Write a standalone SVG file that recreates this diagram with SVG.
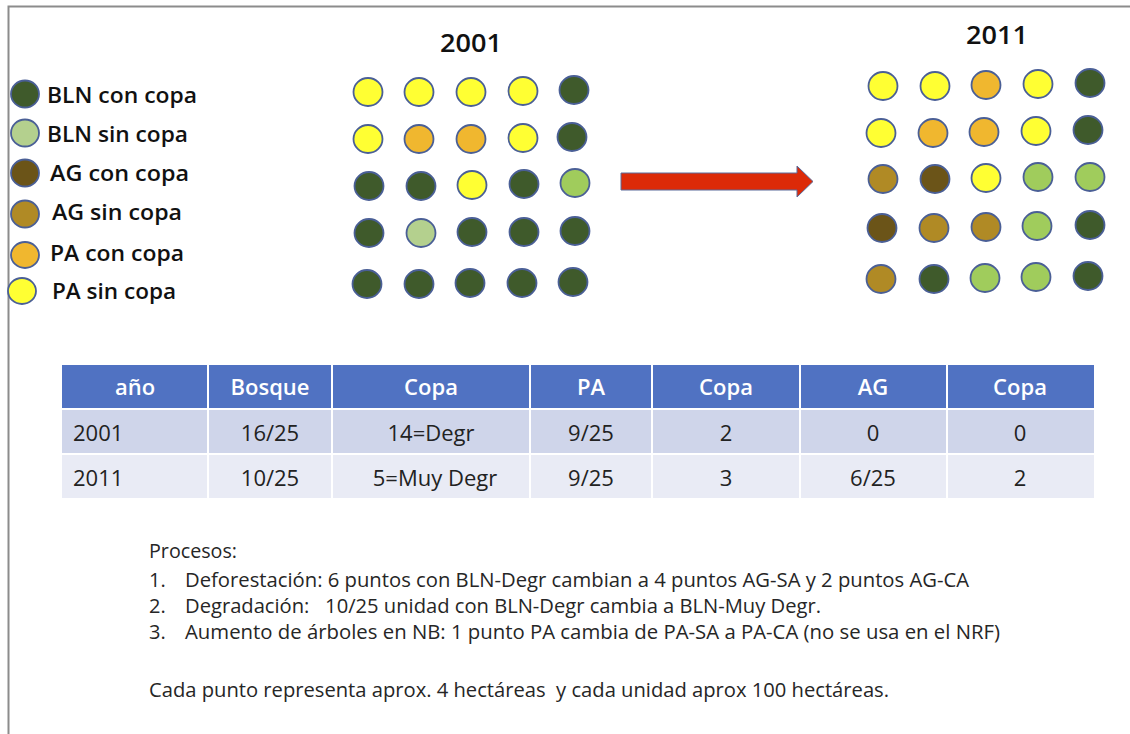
<svg xmlns="http://www.w3.org/2000/svg" width="1130" height="734" viewBox="0 0 1130 734">
<style>
.dot{stroke:#4a5f96;stroke-width:1.8}
.d{fill:#3f5a2b}.pg{fill:#b4d08e}.lg{fill:#a0cc5c}.ac{fill:#6b5418}.as{fill:#b08a25}.o{fill:#f0b72f}.y{fill:#ffff33}
.leg{font-family:"Open Sans","Liberation Sans",sans-serif;font-weight:600;font-size:21.5px;fill:#111}
.ttl{font-family:"Open Sans","Liberation Sans",sans-serif;font-weight:600;font-size:26px;fill:#111}
.th{font-family:"Open Sans","Liberation Sans",sans-serif;font-weight:600;font-size:22px;fill:#fff;text-anchor:middle}
.td{font-family:"Open Sans","Liberation Sans",sans-serif;font-size:22px;fill:#222;text-anchor:middle}
.tx{font-family:"Open Sans","Liberation Sans",sans-serif;font-size:20px;fill:#262626;white-space:pre}
</style>
<rect width="1130" height="734" fill="#fff"/>
<path d="M8.5 734V6.5H1130" fill="none" stroke="#8c8c8c" stroke-width="2"/>

<g id="legend">
<ellipse class="dot d" cx="25" cy="94" rx="14" ry="13.5"/><text class="leg" x="47" y="103" textLength="150" lengthAdjust="spacingAndGlyphs">BLN con copa</text>
<ellipse class="dot pg" cx="25" cy="133" rx="14" ry="13.5"/><text class="leg" x="47" y="142" textLength="141" lengthAdjust="spacingAndGlyphs">BLN sin copa</text>
<ellipse class="dot ac" cx="25" cy="173" rx="14" ry="13.5"/><text class="leg" x="50" y="181" textLength="139" lengthAdjust="spacingAndGlyphs">AG con copa</text>
<ellipse class="dot as" cx="25" cy="214" rx="14" ry="13.5"/><text class="leg" x="52" y="220" textLength="130" lengthAdjust="spacingAndGlyphs">AG sin copa</text>
<ellipse class="dot o" cx="25" cy="255" rx="14" ry="13"/><text class="leg" x="50" y="261" textLength="134" lengthAdjust="spacingAndGlyphs">PA con copa</text>
<ellipse class="dot y" cx="22" cy="291" rx="14" ry="13"/><text class="leg" x="52" y="299" textLength="124" lengthAdjust="spacingAndGlyphs">PA sin copa</text>
</g>

<g id="grid2001">
<text class="ttl" x="440" y="52" textLength="62" lengthAdjust="spacingAndGlyphs">2001</text>
<ellipse class="dot y" cx="368" cy="92" rx="14.5" ry="14"/>
<ellipse class="dot y" cx="419" cy="92" rx="14.5" ry="14"/>
<ellipse class="dot y" cx="471" cy="92" rx="14.5" ry="14"/>
<ellipse class="dot y" cx="523" cy="91" rx="14.5" ry="14"/>
<ellipse class="dot d" cx="574" cy="90" rx="14.5" ry="14"/>
<ellipse class="dot y" cx="368" cy="139" rx="14.5" ry="14"/>
<ellipse class="dot o" cx="419" cy="139" rx="14.5" ry="14"/>
<ellipse class="dot o" cx="471" cy="139" rx="14.5" ry="14"/>
<ellipse class="dot y" cx="523" cy="138" rx="14.5" ry="14"/>
<ellipse class="dot d" cx="572" cy="137" rx="14.5" ry="14"/>
<ellipse class="dot d" cx="369" cy="186" rx="14.5" ry="14"/>
<ellipse class="dot d" cx="421" cy="186" rx="14.5" ry="14"/>
<ellipse class="dot y" cx="472" cy="185" rx="14.5" ry="14"/>
<ellipse class="dot d" cx="524" cy="184" rx="14.5" ry="14"/>
<ellipse class="dot lg" cx="575" cy="183" rx="14.5" ry="14"/>
<ellipse class="dot d" cx="369" cy="233" rx="14.5" ry="14"/>
<ellipse class="dot pg" cx="421" cy="233" rx="14.5" ry="14"/>
<ellipse class="dot d" cx="472" cy="232" rx="14.5" ry="14"/>
<ellipse class="dot d" cx="524" cy="232" rx="14.5" ry="14"/>
<ellipse class="dot d" cx="575" cy="231" rx="14.5" ry="14"/>
<ellipse class="dot d" cx="367" cy="284" rx="14.5" ry="14"/>
<ellipse class="dot d" cx="419" cy="284" rx="14.5" ry="14"/>
<ellipse class="dot d" cx="470" cy="283" rx="14.5" ry="14"/>
<ellipse class="dot d" cx="522" cy="283" rx="14.5" ry="14"/>
<ellipse class="dot d" cx="573" cy="282" rx="14.5" ry="14"/>
</g>

<g id="grid2011">
<text class="ttl" x="966" y="44" textLength="62" lengthAdjust="spacingAndGlyphs">2011</text>
<ellipse class="dot y" cx="883" cy="86" rx="14.5" ry="14"/>
<ellipse class="dot y" cx="935" cy="86" rx="14.5" ry="14"/>
<ellipse class="dot o" cx="986" cy="85" rx="14.5" ry="14"/>
<ellipse class="dot y" cx="1038" cy="84" rx="14.5" ry="14"/>
<ellipse class="dot d" cx="1090" cy="83" rx="14.5" ry="14"/>
<ellipse class="dot y" cx="881" cy="133" rx="14.5" ry="14"/>
<ellipse class="dot o" cx="933" cy="133" rx="14.5" ry="14"/>
<ellipse class="dot o" cx="984" cy="132" rx="14.5" ry="14"/>
<ellipse class="dot y" cx="1036" cy="131" rx="14.5" ry="14"/>
<ellipse class="dot d" cx="1088" cy="130" rx="14.5" ry="14"/>
<ellipse class="dot as" cx="883" cy="179" rx="14.5" ry="14"/>
<ellipse class="dot ac" cx="935" cy="179" rx="14.5" ry="14"/>
<ellipse class="dot y" cx="986" cy="178" rx="14.5" ry="14"/>
<ellipse class="dot lg" cx="1038" cy="177" rx="14.5" ry="14"/>
<ellipse class="dot lg" cx="1090" cy="177" rx="14.5" ry="14"/>
<ellipse class="dot ac" cx="882" cy="228" rx="14.5" ry="14"/>
<ellipse class="dot as" cx="934" cy="228" rx="14.5" ry="14"/>
<ellipse class="dot as" cx="986" cy="227" rx="14.5" ry="14"/>
<ellipse class="dot lg" cx="1037" cy="226" rx="14.5" ry="14"/>
<ellipse class="dot d" cx="1090" cy="225" rx="14.5" ry="14"/>
<ellipse class="dot as" cx="881" cy="279" rx="14.5" ry="14"/>
<ellipse class="dot d" cx="934" cy="279" rx="14.5" ry="14"/>
<ellipse class="dot lg" cx="985" cy="278" rx="14.5" ry="14"/>
<ellipse class="dot lg" cx="1036" cy="277" rx="14.5" ry="14"/>
<ellipse class="dot d" cx="1088" cy="276" rx="14.5" ry="14"/>
</g>

<g id="connectors">
<path id="arrow" d="M621 173H797V166L813 181.5L797 197V190H621Z" fill="#dc2a08" stroke="#5a6a9a" stroke-width="1"/>
</g>

<g id="table">
<rect x="62" y="365" width="1032" height="43" fill="#5072c2"/>
<rect x="62" y="410" width="1032" height="43" fill="#cfd5ea"/>
<rect x="62" y="455" width="1032" height="43" fill="#e9ebf5"/>
<g stroke="#fff" stroke-width="2">
<path d="M208 365V498M332 365V498M530 365V498M652 365V498M800 365V498M947 365V498"/>
</g>
<text class="th" x="135" y="395">año</text>
<text class="th" x="270" y="395">Bosque</text>
<text class="th" x="431" y="395">Copa</text>
<text class="th" x="591" y="395">PA</text>
<text class="th" x="726" y="395">Copa</text>
<text class="th" x="873" y="395">AG</text>
<text class="th" x="1020" y="395">Copa</text>
<text class="td" x="73" y="441" style="text-anchor:start">2001</text>
<text class="td" x="270" y="441">16/25</text>
<text class="td" x="431" y="441">14=Degr</text>
<text class="td" x="591" y="441">9/25</text>
<text class="td" x="726" y="441">2</text>
<text class="td" x="873" y="441">0</text>
<text class="td" x="1020" y="441">0</text>
<text class="td" x="73" y="486" style="text-anchor:start">2011</text>
<text class="td" x="270" y="486">10/25</text>
<text class="td" x="435" y="486">5=Muy Degr</text>
<text class="td" x="591" y="486">9/25</text>
<text class="td" x="726" y="486">3</text>
<text class="td" x="873" y="486">6/25</text>
<text class="td" x="1020" y="486">2</text>
</g>

<g id="notes">
<text class="tx" x="149" y="558" textLength="88" lengthAdjust="spacingAndGlyphs">Procesos:</text>
<text class="tx" x="149" y="587">1.</text>
<text class="tx" x="185" y="587" textLength="784" lengthAdjust="spacingAndGlyphs">Deforestación: 6 puntos con BLN-Degr cambian a 4 puntos AG-SA y 2 puntos AG-CA</text>
<text class="tx" x="149" y="613">2.</text>
<text class="tx" x="185" y="613" textLength="636" lengthAdjust="spacingAndGlyphs" xml:space="preserve">Degradación:   10/25 unidad con BLN-Degr cambia a BLN-Muy Degr.</text>
<text class="tx" x="149" y="639">3.</text>
<text class="tx" x="185" y="639" textLength="815" lengthAdjust="spacingAndGlyphs">Aumento de árboles en NB: 1 punto PA cambia de PA-SA a PA-CA (no se usa en el NRF)</text>
<text class="tx" x="149" y="697" textLength="740" lengthAdjust="spacingAndGlyphs" xml:space="preserve">Cada punto representa aprox. 4 hectáreas  y cada unidad aprox 100 hectáreas.</text>
</g>
</svg>
